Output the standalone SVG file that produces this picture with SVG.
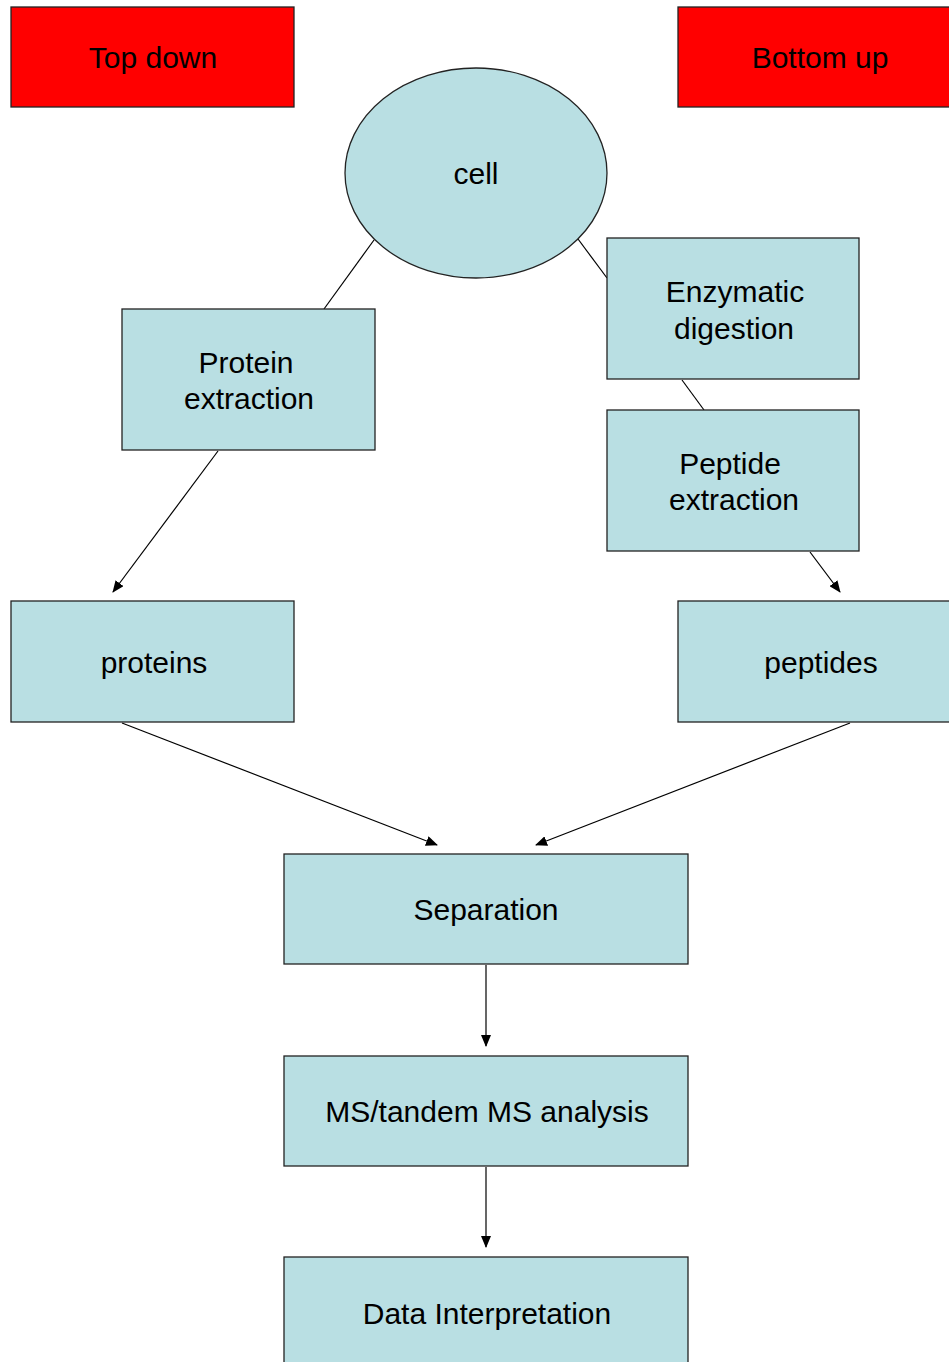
<svg xmlns="http://www.w3.org/2000/svg" width="949" height="1362" viewBox="0 0 949 1362">
<style>
.box{fill:#b9dfe3;stroke:#222;stroke-width:1.3}
.red{fill:#ff0000;stroke:#222;stroke-width:1.3}
.t{font-family:"Liberation Sans",Arial,sans-serif;font-size:30px;fill:#000;text-anchor:middle}
.c{stroke:#000;stroke-width:1.2;fill:none}
</style>
<defs>
<marker id="ah" markerUnits="userSpaceOnUse" markerWidth="12" markerHeight="10" refX="11" refY="5" orient="auto">
<path d="M0,0 L12,5 L0,10 Z" fill="#000"/>
</marker>
</defs>
<rect width="949" height="1362" fill="#fff"/>
<g id="connectors">
<line class="c" x1="374" y1="240" x2="324" y2="309"/>
<line class="c" x1="578" y1="239" x2="607" y2="278"/>
<line class="c" x1="682" y1="380" x2="704" y2="410"/>
<line class="c" x1="218" y1="451" x2="113" y2="592" marker-end="url(#ah)"/>
<line class="c" x1="810" y1="552" x2="840" y2="592" marker-end="url(#ah)"/>
<line class="c" x1="122" y1="723" x2="437" y2="845" marker-end="url(#ah)"/>
<line class="c" x1="850" y1="723" x2="536" y2="845" marker-end="url(#ah)"/>
<line class="c" x1="486" y1="965" x2="486" y2="1046" marker-end="url(#ah)"/>
<line class="c" x1="486" y1="1167" x2="486" y2="1247" marker-end="url(#ah)"/>
</g>
<g id="topdown"><rect class="red" x="11" y="7" width="283" height="100"/><text class="t" x="153" y="68">Top down</text></g>
<g id="bottomup"><rect class="red" x="678" y="7" width="283" height="100"/><text class="t" x="820" y="68">Bottom up</text></g>
<g id="cell"><ellipse class="box" cx="476" cy="173" rx="131" ry="105"/><text class="t" x="476" y="184">cell</text></g>
<g id="protein-extraction"><rect class="box" x="122" y="309" width="253" height="141"/><text class="t" x="246" y="373">Protein</text><text class="t" x="249" y="409">extraction</text></g>
<g id="enzymatic-digestion"><rect class="box" x="607" y="238" width="252" height="141"/><text class="t" x="735" y="302">Enzymatic</text><text class="t" x="734" y="339">digestion</text></g>
<g id="peptide-extraction"><rect class="box" x="607" y="410" width="252" height="141"/><text class="t" x="730" y="474">Peptide</text><text class="t" x="734" y="510">extraction</text></g>
<g id="proteins"><rect class="box" x="11" y="601" width="283" height="121"/><text class="t" x="154" y="673">proteins</text></g>
<g id="peptides"><rect class="box" x="678" y="601" width="283" height="121"/><text class="t" x="821" y="673">peptides</text></g>
<g id="separation"><rect class="box" x="284" y="854" width="404" height="110"/><text class="t" x="486" y="920">Separation</text></g>
<g id="ms"><rect class="box" x="284" y="1056" width="404" height="110"/><text class="t" x="487" y="1122">MS/tandem MS analysis</text></g>
<g id="data"><rect class="box" x="284" y="1257" width="404" height="115"/><text class="t" x="487" y="1324">Data Interpretation</text></g>
</svg>
